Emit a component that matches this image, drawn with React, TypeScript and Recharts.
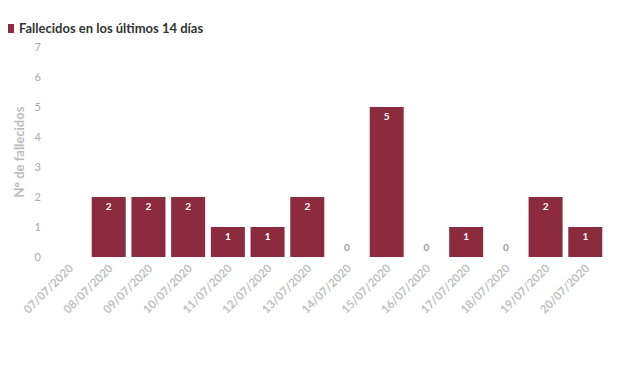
import { BarChart, Bar, XAxis, YAxis, Legend, LabelList } from 'recharts';

const DATES = [
    '07/07/2020', '08/07/2020', '09/07/2020', '10/07/2020', '11/07/2020', '12/07/2020', '13/07/2020',
    '14/07/2020', '15/07/2020', '16/07/2020', '17/07/2020', '18/07/2020', '19/07/2020', '20/07/2020',
];
// first day has no value in the source (no label shown)
const DEATHS = [null, 2, 2, 2, 1, 1, 2, 0, 5, 0, 1, 0, 2, 1];
const Y_TICKS = [0, 1, 2, 3, 4, 5, 6, 7];

const chartData = DATES.map((d, i) => ({ date: d, deaths: DEATHS[i] }));

const FONT = 'Lato, "Open Sans", sans-serif';
const BAR_COLOR = '#8c2b3e';

function DateTick(props: any) {
    const { x, y, payload } = props;
    return (
        <text
            x={x + 5}
            y={y + 4}
            textAnchor="end"
            fill="#c0c0c0"
            fontSize={11.5}
            fontWeight={700}
            fontFamily={FONT}
            transform={`rotate(-45, ${x + 5}, ${y + 4})`}
        >
            {payload.value}
        </text>
    );
}

// draws the bar, and the grey "0" for empty days (recharts gives no label there)
function BarShape(props: any) {
    const { x, y, width, height, payload } = props;
    if (payload.deaths == null) return null;
    if (payload.deaths === 0) {
        return (
            <text x={x + width / 2} y={y + height - 6} textAnchor="middle" fill="#999" fontSize={10} fontWeight={700} fontFamily={FONT}>
                0
            </text>
        );
    }
    return <rect x={x} y={y} width={width} height={height} fill={BAR_COLOR} />;
}

function BarLabel(props: any) {
    const { x, y, width, value } = props;
    if (value == null || Number(value) === 0) return null;
    return (
        <text x={Number(x) + Number(width) / 2} y={Number(y) + 13} textAnchor="middle" fill="#fff" fontSize={10} fontWeight={700} fontFamily={FONT}>
            {value}
        </text>
    );
}

function LegendContent() {
    return (
        <div style={{ display: 'flex', alignItems: 'center', fontFamily: FONT, fontWeight: 700, fontSize: 13, color: '#333' }}>
            <span style={{ width: 6, height: 9, background: BAR_COLOR, display: 'inline-block', marginRight: 5 }} />
            Fallecidos en los últimos 14 días
        </div>
    );
}

export default function App() {
    return (
        <div style={{ position: 'absolute', top: 0, left: 0, width: 620, height: 368, background: '#fff' }}>
            <BarChart width={620} height={368} data={chartData} margin={{ top: 31, right: 15, left: -11, bottom: 34 }} barCategoryGap={3}>
                <Legend
                    verticalAlign="top"
                    align="left"
                    content={<LegendContent />}
                    wrapperStyle={{ position: 'absolute', top: 20, left: 8, width: 300 }}
                />
                <XAxis
                    dataKey="date"
                    axisLine={false}
                    tickLine={false}
                    interval={0}
                    height={77}
                    tick={<DateTick />}
                />
                <YAxis
                    domain={[0, 7]}
                    ticks={Y_TICKS}
                    axisLine={false}
                    tickLine={false}
                    width={60}
                    tick={{ fill: '#aaa', fontSize: 11, fontFamily: FONT }}
                    label={{
                        value: 'N° de fallecidos',
                        angle: -90,
                        position: 'insideLeft',
                        offset: 30,
                        style: { fill: '#bbb', fontSize: 13, fontWeight: 700, fontFamily: FONT, textAnchor: 'middle' },
                    }}
                />
                <Bar dataKey="deaths" fill={BAR_COLOR} isAnimationActive={false} shape={<BarShape />}>
                    <LabelList dataKey="deaths" content={<BarLabel />} />
                </Bar>
            </BarChart>
        </div>
    );
}
